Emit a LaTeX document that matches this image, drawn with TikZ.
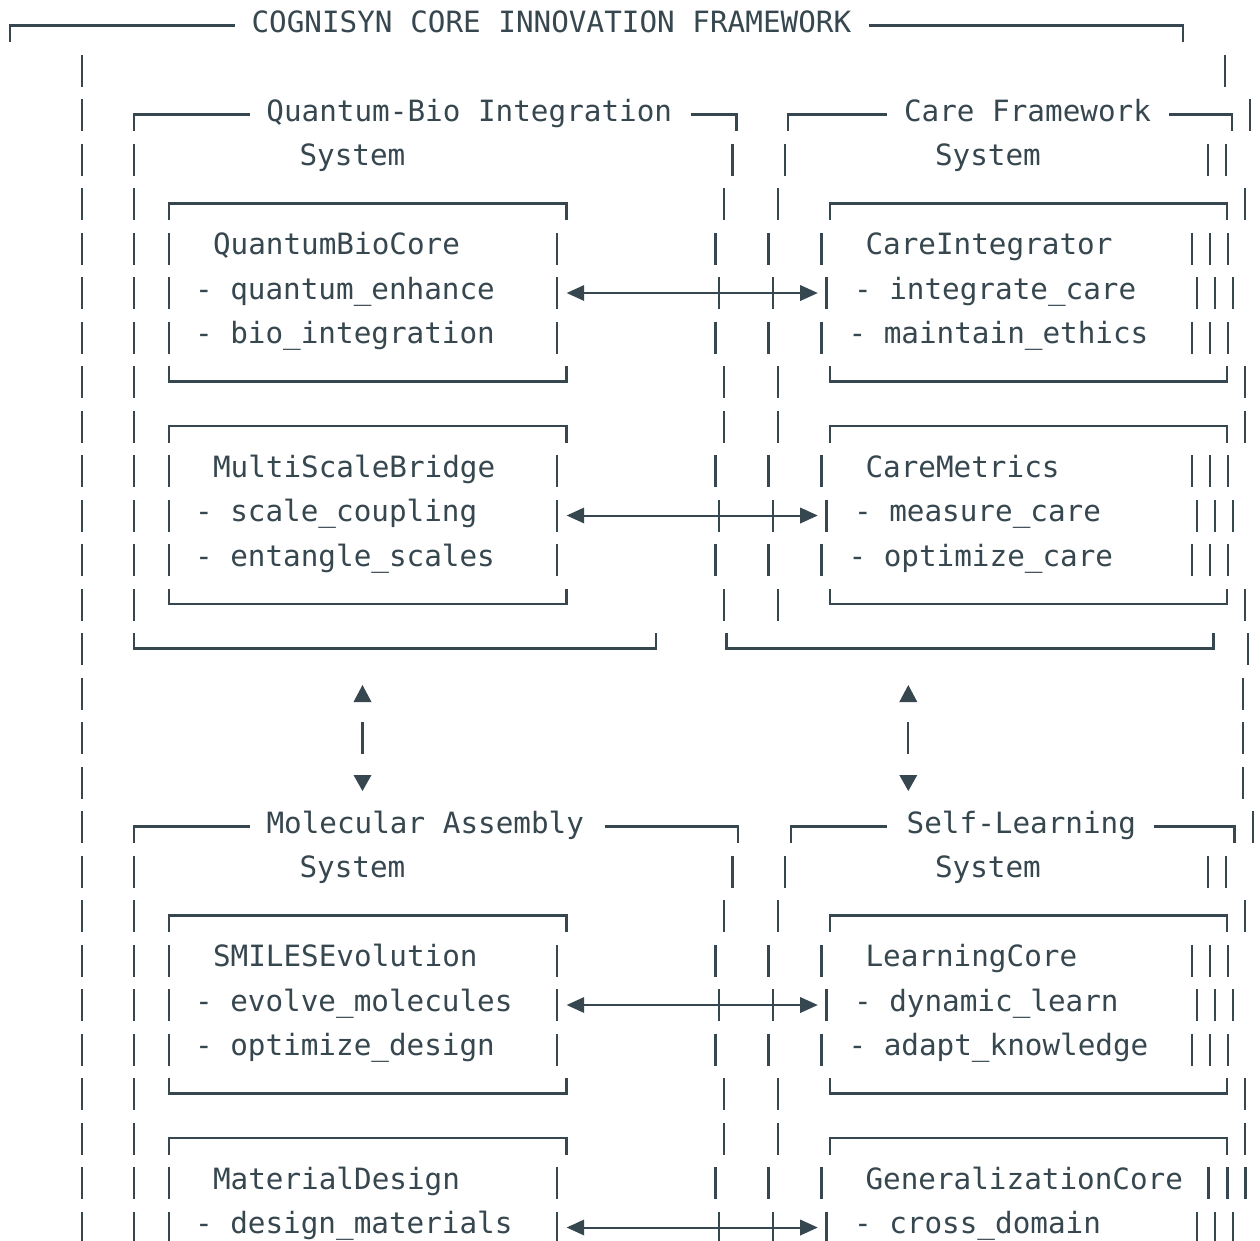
\documentclass[tikz,border=0pt]{standalone}
\usepackage{fontspec}
\setmonofont{DejaVu Sans Mono}
\definecolor{ink}{HTML}{37474F}
\tikzset{
  ln/.style={draw=ink, line width=2.3pt},
  txt/.style={text=ink, font=\ttfamily\fontsize{29.3}{35}\selectfont, anchor=base west, inner sep=0pt, outer sep=0pt},
  hline/.style={draw=ink, line width=2pt},
  tri/.style={fill=ink, draw=none},
}
\def\cy#1{(25.5+44.5*(#1))}
\newcommand\vbar[2]{\draw[ln] (#1,{\cy{#2}-15.5}) -- (#1,{\cy{#2}+16.5});}
\newcommand\btop[3]{\draw[ln] (#1,{\cy{#3}+16.5}) -- (#1,{\cy{#3}}) -- (#2,{\cy{#3}}) -- (#2,{\cy{#3}+16.5});}
\newcommand\bbot[3]{\draw[ln] (#1,{\cy{#3}-15.5}) -- (#1,{\cy{#3}}) -- (#2,{\cy{#3}}) -- (#2,{\cy{#3}-15.5});}
\newcommand\ttop[5]{\draw[ln] (#1,{\cy{#5}+16.5}) -- (#1,{\cy{#5}}) -- (#2,{\cy{#5}});
  \draw[ln] (#3,{\cy{#5}}) -- (#4,{\cy{#5}}) -- (#4,{\cy{#5}+16.5});}
\newcommand\tx[4]{\node[txt] (#1) at (#2,{\cy{#3}+6.8}) {#4};}
\begin{document}
\begin{tikzpicture}[x=1pt,y=-1pt]
\fill[white] (0,0) rectangle (1260,1240);
\useasboundingbox (0,0) rectangle (1260,1240);

% ---- title rows
\ttop{10}{235}{869}{1183.3}{0}
\ttop{134}{250}{691}{736.5}{2}
\ttop{788}{887}{1169}{1232.3}{2}
\ttop{134}{250}{604.7}{737.7}{18}
\ttop{790.7}{887}{1154}{1234.6}{18}

% ---- outer and system bars
\foreach \r in {1,...,27} {\vbar{82}{\r}}
\foreach \r in {3,...,13} {\vbar{134}{\r}}
\foreach \r in {19,...,27} {\vbar{134}{\r}}
\foreach \r in {5,6,7,10,11,12,21,22,23,26,27} {\vbar{169}{\r}\vbar{557.3}{\r}}
\foreach \r in {4,8,9,13,20,24,25} {\vbar{724}{\r}\vbar{778}{\r}\vbar{1245}{\r}}
\foreach \r in {5,7,10,12,21,23} {\vbar{715.6}{\r}\vbar{768.6}{\r}\vbar{821.6}{\r}\vbar{1191.7}{\r}\vbar{1210}{\r}\vbar{1228.3}{\r}}
\foreach \r in {6,11,22,27} {\vbar{719}{\r}\vbar{772.7}{\r}\vbar{826.5}{\r}\vbar{1196.7}{\r}\vbar{1215}{\r}\vbar{1233.3}{\r}}
\vbar{715.6}{26}\vbar{768.6}{26}\vbar{821.6}{26}\vbar{1208.5}{26}\vbar{1227.5}{26}\vbar{1245.5}{26}
\foreach \r in {3,19} {\vbar{732.5}{\r}\vbar{785}{\r}\vbar{1208.3}{\r}\vbar{1225.8}{\r}}
\vbar{1225}{1}
\vbar{1250}{2}
\vbar{1248}{14}
\foreach \r in {15,16,17} {\vbar{1242.7}{\r}}
\vbar{1252.7}{18}

% ---- inner boxes
\foreach \r in {4,9,20,25} {\btop{169}{566.5}{\r}\btop{830}{1227.3}{\r}}
\foreach \r in {8,13,24} {\bbot{169}{566.5}{\r}\bbot{830}{1227.3}{\r}}
\bbot{134}{656}{14}
\bbot{726.4}{1213.4}{14}

% ---- texts
\tx{title}{251.5}{0}{COGNISYN CORE INNOVATION FRAMEWORK}
\tx{qbi}{266.4}{2}{Quantum-Bio Integration}
\tx{qbisys}{299.5}{3}{System}
\tx{cf}{904}{2}{Care Framework}
\tx{cfsys}{935}{3}{System}
\tx{qbc}{213}{5}{QuantumBioCore}
\tx{qbc1}{195}{6}{- quantum\_enhance}
\tx{qbc2}{195}{7}{- bio\_integration}
\tx{ci}{865.5}{5}{CareIntegrator}
\tx{ci1}{854}{6}{- integrate\_care}
\tx{ci2}{848.5}{7}{- maintain\_ethics}
\tx{msb}{213}{10}{MultiScaleBridge}
\tx{msb1}{195}{11}{- scale\_coupling}
\tx{msb2}{195}{12}{- entangle\_scales}
\tx{cm}{865.5}{10}{CareMetrics}
\tx{cm1}{854}{11}{- measure\_care}
\tx{cm2}{848.5}{12}{- optimize\_care}
\tx{ma}{266.5}{18}{Molecular Assembly}
\tx{masys}{299.5}{19}{System}
\tx{sl}{906.7}{18}{Self-Learning}
\tx{slsys}{935}{19}{System}
\tx{se}{213}{21}{SMILESEvolution}
\tx{se1}{195}{22}{- evolve\_molecules}
\tx{se2}{195}{23}{- optimize\_design}
\tx{lc}{865.5}{21}{LearningCore}
\tx{lc1}{854}{22}{- dynamic\_learn}
\tx{lc2}{848.5}{23}{- adapt\_knowledge}
\tx{md}{213}{26}{MaterialDesign}
\tx{md1}{195}{27}{- design\_materials}
\tx{gc}{865.5}{26}{GeneralizationCore}
\tx{gc1}{854}{27}{- cross\_domain}

% ---- horizontal bidirectional arrows
\foreach \r/\n in {6/a,11/b,22/c,27/d} {
  \coordinate (L\n) at (566.7,{\cy{\r}+0.5});
  \coordinate (R\n) at (817.7,{\cy{\r}+0.5});
  \draw[hline] ([xshift=16pt]L\n) -- ([xshift=-16pt]R\n);
  \fill[ink] (L\n) -- ++(17.5,-8) -- ++(0,16) -- cycle;
  \fill[ink] (R\n) -- ++(-17.5,-8) -- ++(0,16) -- cycle;
}

% ---- vertical bidirectional arrows
\foreach \x/\n in {362.5/l,908.3/r} {
  \coordinate (up\n) at (\x,685);
  \coordinate (dn\n) at (\x,791);
  \fill[ink] (up\n) -- ++(9,17) -- ++(-18,0) -- cycle;
  \fill[ink] (dn\n) -- ++(9,-16) -- ++(-18,0) -- cycle;
  \draw[ln] ([yshift=-37pt]up\n) -- ([yshift=37pt]dn\n);
}
\end{tikzpicture}
\end{document}
